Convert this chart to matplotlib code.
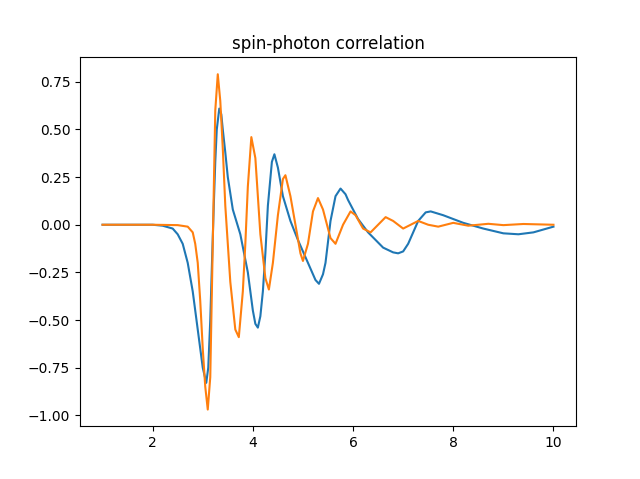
import matplotlib
matplotlib.use("Agg")
import matplotlib.pyplot as plt

blue_x = [1.0, 1.5, 2.0, 2.2, 2.4, 2.5, 2.6, 2.7, 2.8, 2.9, 2.95, 3.0, 3.07, 3.11, 3.15, 3.19, 3.22, 3.25, 3.28, 3.33, 3.37, 3.4, 3.45, 3.5, 3.6, 3.75, 3.9, 4.0, 4.05, 4.1, 4.15, 4.2, 4.25, 4.3, 4.38, 4.43, 4.5, 4.6, 4.75, 4.9, 5.1, 5.25, 5.32, 5.4, 5.45, 5.55, 5.65, 5.75, 5.85, 5.9, 6.1, 6.3, 6.6, 6.8, 6.9, 7.0, 7.1, 7.3, 7.45, 7.55, 7.8, 8.2, 8.6, 9.0, 9.3, 9.6, 10.0]
blue_y = [0.0, 0.0, 0.0, -0.005, -0.02, -0.05, -0.1, -0.2, -0.35, -0.55, -0.65, -0.75, -0.83, -0.75, -0.5, -0.15, 0.1, 0.33, 0.5, 0.61, 0.58, 0.5, 0.38, 0.25, 0.08, -0.05, -0.25, -0.45, -0.52, -0.54, -0.48, -0.35, -0.15, 0.1, 0.33, 0.37, 0.3, 0.15, 0.02, -0.08, -0.2, -0.29, -0.31, -0.26, -0.2, 0.02, 0.15, 0.19, 0.16, 0.13, 0.03, -0.04, -0.12, -0.145, -0.15, -0.14, -0.1, 0.02, 0.065, 0.07, 0.05, 0.01, -0.02, -0.045, -0.05, -0.04, -0.01]

orange_x = [1.0, 1.5, 2.0, 2.5, 2.7, 2.8, 2.85, 2.9, 2.95, 3.0, 3.05, 3.1, 3.15, 3.2, 3.25, 3.3, 3.35, 3.4, 3.45, 3.55, 3.65, 3.72, 3.8, 3.85, 3.9, 3.97, 4.05, 4.1, 4.15, 4.25, 4.32, 4.4, 4.5, 4.6, 4.65, 4.75, 4.85, 4.95, 5.0, 5.1, 5.2, 5.3, 5.4, 5.55, 5.65, 5.8, 5.95, 6.05, 6.2, 6.35, 6.5, 6.65, 6.8, 7.0, 7.15, 7.3, 7.5, 7.7, 8.0, 8.3, 8.7, 9.0, 9.4, 10.0]
orange_y = [0.0, 0.0, 0.0, -0.002, -0.01, -0.04, -0.1, -0.2, -0.4, -0.65, -0.85, -0.97, -0.8, -0.1, 0.6, 0.79, 0.65, 0.4, 0.1, -0.3, -0.55, -0.59, -0.35, -0.1, 0.2, 0.46, 0.35, 0.15, -0.05, -0.28, -0.34, -0.2, 0.05, 0.24, 0.26, 0.15, 0.0, -0.15, -0.19, -0.1, 0.07, 0.14, 0.08, -0.07, -0.1, 0.0, 0.07, 0.05, -0.02, -0.04, 0.0, 0.04, 0.02, -0.02, 0.0, 0.02, 0.0, -0.01, 0.01, -0.005, 0.005, -0.002, 0.004, 0.0]

fig, ax = plt.subplots(figsize=(6.4, 4.79), dpi=100)
ax.plot(blue_x, blue_y, color="#1f77b4", lw=1.5)
ax.plot(orange_x, orange_y, color="#ff7f0e", lw=1.5)
ax.set_title("spin-photon correlation")
fig.savefig("out.png", dpi=100)
